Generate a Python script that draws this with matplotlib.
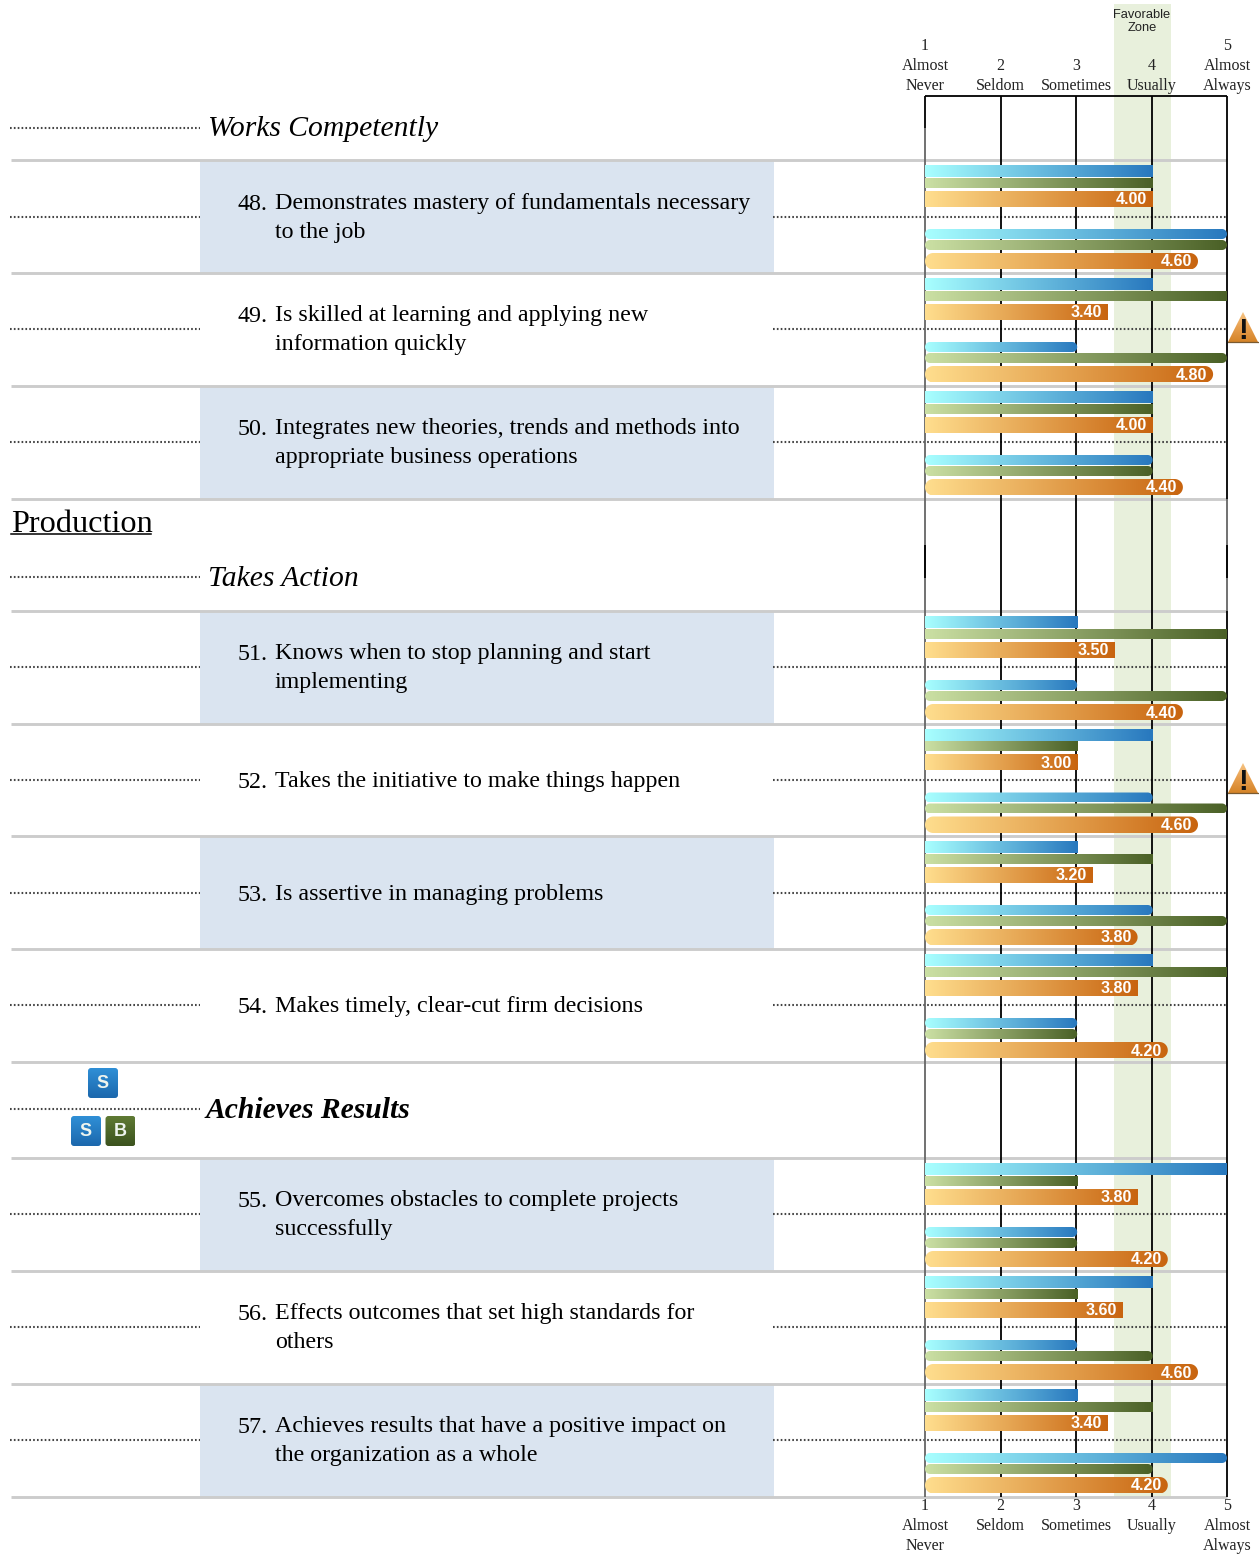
import matplotlib
matplotlib.use("Agg")
import numpy as np
import matplotlib.pyplot as plt
from matplotlib.colors import LinearSegmentedColormap
from matplotlib.patches import FancyBboxPatch, Rectangle, Polygon

W, H = 1259, 1554
SERIF = "Liberation Serif"
SANS = "Liberation Sans"

item_numbers = [48, 49, 50, 51, 52, 53, 54, 55, 56, 57]
item_lines = [
    ["Demonstrates mastery of fundamentals necessary", "to the job"],
    ["Is skilled at learning and applying new", "information quickly"],
    ["Integrates new theories, trends and methods into", "appropriate business operations"],
    ["Knows when to stop planning and start", "implementing"],
    ["Takes the initiative to make things happen"],
    ["Is assertive in managing problems"],
    ["Makes timely, clear-cut firm decisions"],
    ["Overcomes obstacles to complete projects", "successfully"],
    ["Effects outcomes that set high standards for", "others"],
    ["Achieves results that have a positive impact on", "the organization as a whole"],
]
top_blue = [4, 4, 4, 3, 4, 3, 4, 5, 4, 3]
top_green = [4, 5, 4, 5, 3, 4, 5, 3, 3, 4]
top_orange = [4.00, 3.40, 4.00, 3.50, 3.00, 3.20, 3.80, 3.80, 3.60, 3.40]
bot_blue = [5, 3, 4, 3, 4, 4, 3, 3, 3, 5]
bot_green = [5, 5, 4, 5, 5, 5, 3, 3, 4, 4]
bot_orange = [4.60, 4.80, 4.40, 4.40, 4.60, 3.80, 4.20, 4.20, 4.60, 4.20]
warned_items = [49, 52]
shaded_items = [48, 50, 51, 53, 55, 57]

scale_ticks = [1, 2, 3, 4, 5]
scale_labels = [["1", "Almost", "Never"], ["2", "Seldom"], ["3", "Sometimes"],
                ["4", "Usually"], ["5", "Almost", "Always"]]
zone_low, zone_high = 3.5, 4.26

row_tops = [160, 273, 386, 611, 723.5, 836, 949, 1158, 1271, 1384]
separators = [160, 273, 386, 499, 611, 724, 836, 949, 1062, 1158, 1271, 1384, 1497]
row_dots = [217, 329, 442, 667, 780, 893, 1005, 1214, 1327, 1440]
head_dots = [128, 577, 1109]

fig = plt.figure(figsize=(W / 100, H / 100), dpi=100, facecolor="white")
x0, x1 = 925, 1227

# back layer: favourable zone on the rating scale
zone_ax = fig.add_axes([x0 / W, 0, (x1 - x0) / W, 1], facecolor="none", zorder=0)
zone_ax.set_xlim(1, 5)
zone_ax.set_ylim(H, 0)
zone_ax.axis("off")
zone_ax.add_patch(Rectangle((zone_low, 4), zone_high - zone_low, 1493, fc="#e8f0dc", ec="none"))

bg = fig.add_axes([0, 0, 1, 1], facecolor="none", zorder=1)
bg.set_xlim(0, W)
bg.set_ylim(H, 0)
bg.axis("off")

ax = fig.add_axes([x0 / W, 0, (x1 - x0) / W, 1], facecolor="none", zorder=2)
ax.set_xlim(1, 5)
ax.set_ylim(H, 0)
ax.axis("off")

for n, t in zip(item_numbers, row_tops):
    if n in shaded_items:
        bg.add_patch(Rectangle((200, t + 1), 574, 112, fc="#dae4f0", ec="none", zorder=0))

dot_kw = dict(color="#444444", lw=1.5, dashes=(0.8, 1.05), zorder=1)
for y in row_dots:
    bg.plot([10, 200], [y, y], **dot_kw)
    bg.plot([773, 1226], [y, y], **dot_kw)
for y in head_dots:
    bg.plot([10, 200], [y, y], **dot_kw)

for y in separators:
    bg.plot([11, 1227], [y, y], color="#cccccc", lw=2.1, solid_capstyle="butt", zorder=2)

# scale grid
GRID = "#000000"
GRAY = "#666666"
line_kw = dict(lw=1.3, zorder=3, solid_capstyle="butt", clip_on=False)
for v in scale_ticks[1:4]:
    ax.plot([v, v], [96, 1497], color=GRID, **line_kw)
ax.plot([1, 1], [96, 128], color=GRID, **line_kw)
ax.plot([1, 1], [128, 1497], color=GRAY, **line_kw)
ax.plot([1, 1], [545, 578], color=GRID, **line_kw)
ax.plot([5, 5], [96, 499], color=GRID, **line_kw)
ax.plot([5, 5], [499, 611], color=GRAY, **line_kw)
ax.plot([5, 5], [545, 578], color=GRID, **line_kw)
ax.plot([5, 5], [611, 1497], color=GRID, **line_kw)
ax.plot([1, 5], [96, 96], color=GRID, **line_kw)

blue_cm = LinearSegmentedColormap.from_list("b", ["#a8ffff", "#2878be"])
green_cm = LinearSegmentedColormap.from_list("g", ["#cbe0a4", "#4a6026"])
orange_cm = LinearSegmentedColormap.from_list("o", ["#ffde8e", "#c8640f"])
grad = np.linspace(0, 1, 256).reshape(1, -1)
PX = 4 / (x1 - x0)


def bar(value, ytop, ybot, cmap, rounded):
    end = min(value + 1.2 * PX, 5)
    im = ax.imshow(grad, cmap=cmap, aspect="auto", extent=(1, end, ybot, ytop),
                   zorder=4, interpolation="bilinear")
    if rounded:
        r = (ybot - ytop) / 2
        a = np.linspace(-np.pi / 2, np.pi / 2, 24)
        right = np.c_[end - r * PX + r * PX * np.cos(a), ytop + r + r * np.sin(a)]
        left = np.c_[1 + r * PX - r * PX * np.cos(a[::-1]), ytop + r + r * np.sin(a[::-1])]
        im.set_clip_path(Polygon(np.r_[right, left], closed=True, transform=ax.transData))


val_kw = dict(family=SANS, weight="bold", fontsize=11.6, color="white", ha="right",
              va="baseline", zorder=6)
for i, t in enumerate(row_tops):
    bar(top_blue[i], t + 6, t + 17.5, blue_cm, False)
    bar(top_green[i], t + 18, t + 28, green_cm, False)
    bar(top_orange[i], t + 31, t + 47, orange_cm, False)
    bar(bot_blue[i], t + 69, t + 79, blue_cm, True)
    bar(bot_green[i], t + 80, t + 90, green_cm, True)
    bar(bot_orange[i], t + 93, t + 109.5, orange_cm, True)
    ax.text(top_orange[i] - 4.5 * PX, t + 44.3, f"{top_orange[i]:.2f}", **val_kw)
    ax.text(bot_orange[i] - 4.5 * PX, t + 106.5, f"{bot_orange[i]:.2f}", **val_kw)
ax.set_xlim(1, 5)
ax.set_ylim(H, 0)

# item text
txt_kw = dict(family=SERIF, fontsize=17.3, color="black", va="baseline", zorder=5)
for n, lines, t, yd in zip(item_numbers, item_lines, row_tops, row_dots):
    ys = [yd - 8, yd + 20.7] if len(lines) == 2 else [yd + 7]
    bg.text(238, ys[0] + 0.8, f"{n}.", **txt_kw)
    for y, s in zip(ys, lines):
        bg.text(275, y, s, **txt_kw)

# headings
bg.text(208, 136, "Works Competently", family=SERIF, style="italic", fontsize=21.3, color="black", va="baseline")
bg.text(208, 586, "Takes Action", family=SERIF, style="italic", fontsize=21.3, color="black", va="baseline")
bg.text(206, 1118, "Achieves Results", family=SERIF, style="italic", weight="bold", fontsize=21.3, color="black", va="baseline")
bg.text(11, 532, "Production", family=SERIF, fontsize=23.2, color="black", va="baseline")
bg.plot([11, 151], [533.5, 533.5], color="black", lw=1.1)

# scale labels
lab_kw = dict(family=SERIF, fontsize=11.5, color="#222222", ha="center", va="baseline", zorder=6, clip_on=False)
for v, lab in zip(scale_ticks, scale_labels):
    for j, s in enumerate(lab[::-1]):
        ax.text(v, 90 - 20 * j, s, **lab_kw)
    for j, s in enumerate(lab):
        ax.text(v, 1510.5 + 20 * j, s, **lab_kw)
bg.text(1142, 18, "Favorable", family=SANS, fontsize=9.3, color="#222222", ha="center", va="baseline", zorder=6)
bg.text(1142, 30.7, "Zone", family=SANS, fontsize=9.3, color="#222222", ha="center", va="baseline", zorder=6)

# warning icons
tri_cm = LinearSegmentedColormap.from_list("t", ["#f6c584", "#e8a050", "#d58428"])
for n, yd in zip(item_numbers, row_dots):
    if n in warned_items:
        cx, base = 1243, yd + 13
        im = bg.imshow(np.linspace(0, 1, 64).reshape(-1, 1), cmap=tri_cm, aspect="auto",
                       extent=(1228, 1258, base, base - 30), zorder=5)
        im.set_clip_path(Polygon([(cx, base - 30), (cx + 15, base), (cx - 15, base)], closed=True, transform=bg.transData))
        bg.plot([cx - 15, cx + 15], [base, base], color="#7a5a30", lw=0.9, zorder=6)
        bg.text(cx, base - 3, "!", family=SANS, weight="bold", fontsize=21, color="#111111", ha="center", va="baseline", zorder=7)
bg.set_xlim(0, W)
bg.set_ylim(H, 0)

# badges
blue_badge = LinearSegmentedColormap.from_list("bb", ["#2f8fd6", "#1c68ad"])
green_badge = LinearSegmentedColormap.from_list("gb", ["#5f7a34", "#3c531e"])
for lx, ty, ch, cm in [(88, 1068, "S", blue_badge), (71, 1116, "S", blue_badge), (105.5, 1116, "B", green_badge)]:
    im = bg.imshow(np.linspace(0, 1, 32).reshape(-1, 1), cmap=cm, aspect="auto",
                   extent=(lx, lx + 30, ty + 30, ty), zorder=5)
    im.set_clip_path(FancyBboxPatch((lx + 2, ty + 2), 26, 26, boxstyle="round,pad=2,rounding_size=3", transform=bg.transData))
    bg.text(lx + 15, ty + 20.5, ch, family=SANS, weight="bold", fontsize=13, color="#eef4ee", ha="center", va="baseline", zorder=6)
bg.set_xlim(0, W)
bg.set_ylim(H, 0)

fig.savefig("out.png", dpi=100)
